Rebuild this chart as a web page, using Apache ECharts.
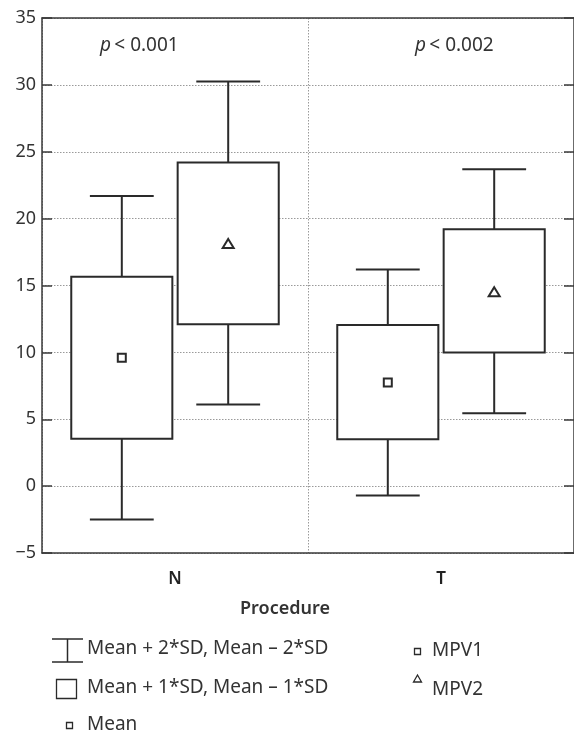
<!DOCTYPE html>
<html>
<head>
<meta charset="utf-8">
<script src="https://cdn.jsdelivr.net/npm/echarts@6/dist/echarts.min.js"></script>
<style>
html,body{margin:0;padding:0;background:#fff;}
#chart{width:574px;height:735px;}
</style>
</head>
<body>
<div id="chart"></div>
<script>
// ---- data ----
const categories = ['N', 'T'];
// MPV1
const mpv1Mean = [9.6, 7.75];
const mpv1Sd1Low = [3.55, 3.5];
const mpv1Sd1High = [15.65, 12.05];
const mpv1Sd2Low = [-2.5, -0.7];
const mpv1Sd2High = [21.7, 16.2];
// MPV2
const mpv2Mean = [18.1, 14.5];
const mpv2Sd1Low = [12.1, 10.0];
const mpv2Sd1High = [24.2, 19.2];
const mpv2Sd2Low = [6.1, 5.45];
const mpv2Sd2High = [30.25, 23.7];
// annotations
const pLabels = ['0.001', '0.002'];
const yMin = -5, yMax = 35, yStep = 5;
const axisName = 'Procedure';
const legendLabels = ['Mean + 2*SD, Mean \u2013 2*SD', 'Mean + 1*SD, Mean \u2013 1*SD', 'Mean', 'MPV1', 'MPV2'];

const FONT = 'Noto Sans';
const INK = '#2a2a2a';
const TXT = '#333';

function buildData(mean, s1l, s1h, s2l, s2h) {
  return categories.map((c, i) => [i, s2l[i], s1l[i], mean[i], s1h[i], s2h[i]]);
}

function makeRender(side, marker) {
  return function (params, api) {
    const ci = api.value(0);
    const band = api.size([1, 0])[0];
    const cx = api.coord([ci, 0])[0] + side * band * 0.2;
    const yW0 = api.coord([ci, api.value(1)])[1];
    const yB0 = api.coord([ci, api.value(2)])[1];
    const yM = api.coord([ci, api.value(3)])[1];
    const yB1 = api.coord([ci, api.value(4)])[1];
    const yW1 = api.coord([ci, api.value(5)])[1];
    const bw = band * 0.38;
    const cw = band * 0.24;
    const ls = { stroke: INK, lineWidth: 2 };
    const children = [
      { type: 'line', shape: { x1: cx, y1: yW1, x2: cx, y2: yB1 }, style: ls },
      { type: 'line', shape: { x1: cx, y1: yB0, x2: cx, y2: yW0 }, style: ls },
      { type: 'line', shape: { x1: cx - cw / 2, y1: yW1, x2: cx + cw / 2, y2: yW1 }, style: ls },
      { type: 'line', shape: { x1: cx - cw / 2, y1: yW0, x2: cx + cw / 2, y2: yW0 }, style: ls },
      { type: 'rect', shape: { x: cx - bw / 2, y: yB1, width: bw, height: yB0 - yB1 }, style: { fill: '#fff', stroke: INK, lineWidth: 2 } }
    ];
    if (marker === 'square') {
      children.push({ type: 'rect', shape: { x: cx - 4, y: yM - 4, width: 8, height: 8 }, style: { fill: '#fff', stroke: INK, lineWidth: 2 } });
    } else {
      children.push({ type: 'polygon', shape: { points: [[cx, yM - 5], [cx + 5.5, yM + 4], [cx - 5.5, yM + 4]] }, style: { fill: '#fff', stroke: INK, lineWidth: 2 } });
    }
    return { type: 'group', children: children };
  };
}

const chart = echarts.init(document.getElementById('chart'), null, { renderer: 'canvas' });

const axisLineStyle = { color: '#3a3a3a', width: 1.5 };
const gridLineStyle = { color: '#9a9a9a', type: [1.5, 1.5], width: 1 };

function label(text, x, y, size, weight) {
  return { type: 'text', x: x, y: y, style: { text: text, fontFamily: FONT, fontSize: size, fontWeight: weight || 'normal', fill: TXT, verticalAlign: 'middle', align: 'left' } };
}
function pLabel(val, x, y) {
  return { type: 'text', x: x, y: y, style: { verticalAlign: 'middle', align: 'left',
    rich: { i: { fontStyle: 'italic', fontFamily: FONT, fontSize: 19, fill: TXT }, n: { fontFamily: FONT, fontSize: 19, fill: TXT } },
    text: '{i|p} {n|< ' + val + '}' } };
}

const option = {
  animation: false,
  grid: { left: 42, right: -3, top: 18, bottom: 182 },
  xAxis: [
    {
      type: 'category', data: categories, position: 'bottom',
      axisLine: { onZero: false, lineStyle: axisLineStyle },
      axisTick: { inside: true, length: 10, lineStyle: axisLineStyle },
      axisLabel: { color: '#222', fontFamily: FONT, fontSize: 17, fontWeight: 600, margin: 18 },
      splitLine: { show: true, lineStyle: gridLineStyle }
    },
    {
      type: 'category', data: categories, position: 'top',
      axisLine: { onZero: false, lineStyle: axisLineStyle },
      axisTick: { inside: true, length: 10, lineStyle: axisLineStyle },
      axisLabel: { show: false },
      splitLine: { show: false }
    }
  ],
  yAxis: [
    {
      type: 'value', min: yMin, max: yMax, interval: yStep, position: 'left',
      axisLine: { show: true, onZero: false, lineStyle: axisLineStyle },
      axisTick: { show: true, inside: true, length: 10, lineStyle: axisLineStyle },
      axisLabel: { color: TXT, fontFamily: FONT, fontSize: 18, margin: 6,
        formatter: v => String(v).replace('-', '\u2212') },
      splitLine: { show: true, lineStyle: gridLineStyle }
    },
    {
      type: 'value', min: yMin, max: yMax, interval: yStep, position: 'right',
      axisLine: { show: true, onZero: false, lineStyle: axisLineStyle },
      axisTick: { show: true, inside: true, length: 10, lineStyle: axisLineStyle },
      axisLabel: { show: false },
      splitLine: { show: false }
    }
  ],
  series: [
    { type: 'custom', name: 'MPV1', renderItem: makeRender(-1, 'square'),
      data: buildData(mpv1Mean, mpv1Sd1Low, mpv1Sd1High, mpv1Sd2Low, mpv1Sd2High), z: 5 },
    { type: 'custom', name: 'MPV2', renderItem: makeRender(1, 'triangle'),
      data: buildData(mpv2Mean, mpv2Sd1Low, mpv2Sd1High, mpv2Sd2Low, mpv2Sd2High), z: 5 }
  ],
  graphic: [
    pLabel(pLabels[0], 100, 46),
    pLabel(pLabels[1], 415, 46),
    label(axisName, 240, 609, 18, 600),
    // legend: whisker icon
    { type: 'group', x: 52, y: 639, children: [
      { type: 'line', shape: { x1: 0, y1: 0, x2: 31, y2: 0 }, style: { stroke: INK, lineWidth: 1.5 } },
      { type: 'line', shape: { x1: 15.5, y1: 0, x2: 15.5, y2: 23 }, style: { stroke: INK, lineWidth: 1.5 } },
      { type: 'line', shape: { x1: 0, y1: 23, x2: 31, y2: 23 }, style: { stroke: INK, lineWidth: 1.5 } }
    ] },
    label(legendLabels[0], 87, 649, 19),
    { type: 'rect', shape: { x: 56.5, y: 679.5, width: 20, height: 19 }, style: { fill: '#fff', stroke: INK, lineWidth: 1.3 } },
    label(legendLabels[1], 87, 688, 19),
    { type: 'rect', shape: { x: 66.5, y: 722.5, width: 6, height: 6 }, style: { fill: '#fff', stroke: INK, lineWidth: 1.3 } },
    label(legendLabels[2], 87, 725, 19),
    { type: 'rect', shape: { x: 414.5, y: 648.5, width: 6, height: 6 }, style: { fill: '#fff', stroke: INK, lineWidth: 1.3 } },
    label(legendLabels[3], 432, 651, 19),
    { type: 'polygon', shape: { points: [[417.5, 675], [421.5, 682], [413.5, 682]] }, style: { fill: '#fff', stroke: INK, lineWidth: 1.3 } },
    label(legendLabels[4], 432, 690, 19)
  ]
};
chart.setOption(option);
</script>
</body>
</html>
